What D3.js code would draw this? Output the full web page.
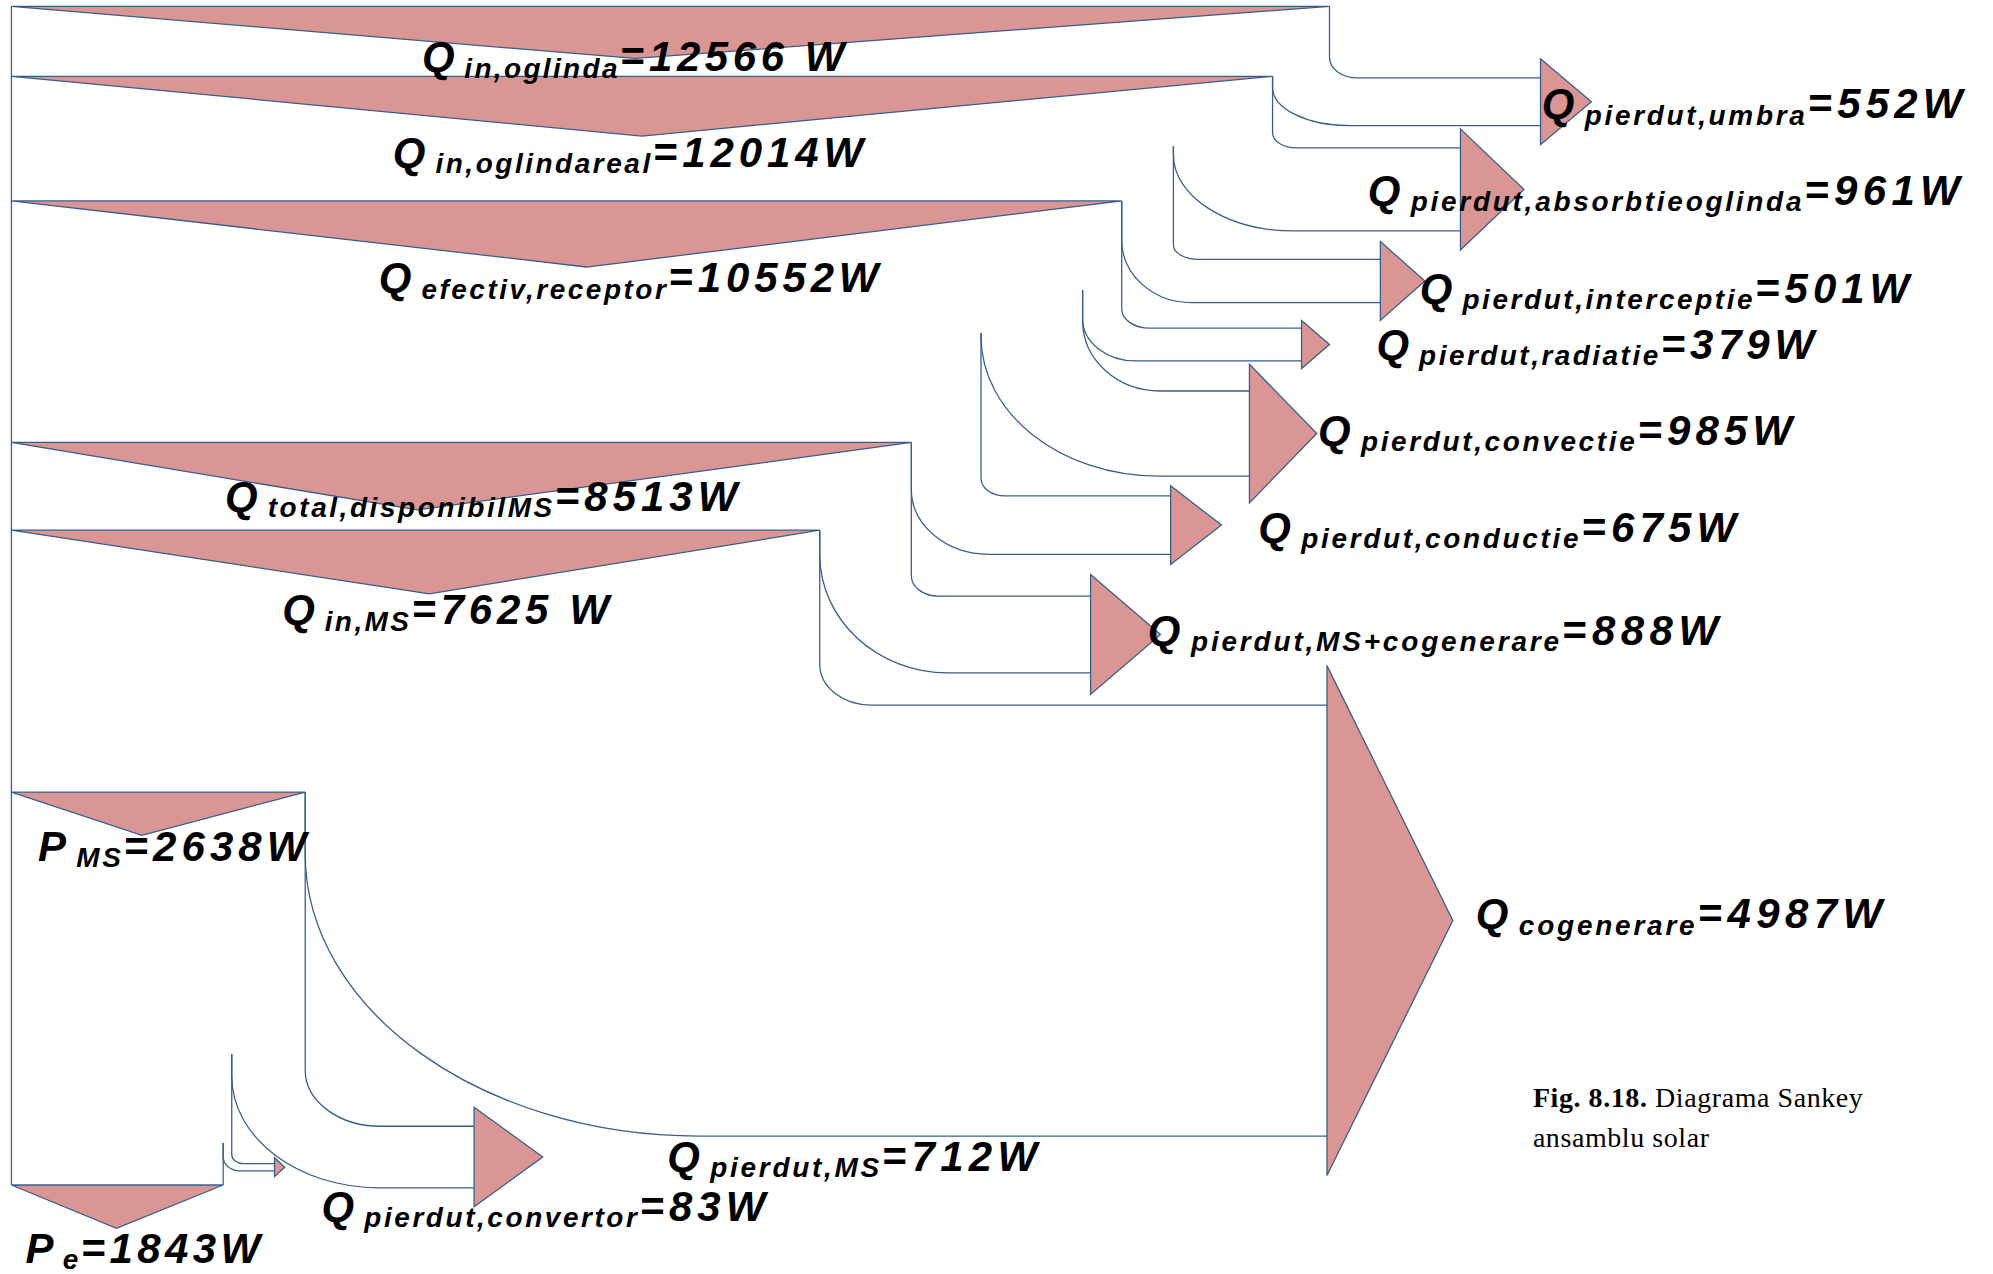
<!DOCTYPE html>
<html>
<head>
<meta charset="utf-8">
<script src="https://cdn.jsdelivr.net/npm/d3@7"></script>
<style>
  html, body { margin: 0; padding: 0; background: #fff; }
  svg { display: block; }
</style>
</head>
<body>
<div id="chart"></div>
<script>
// main flow, stage by stage (W)
const stageSymbols = ["Q", "Q", "Q", "Q", "Q", "P", "P"];
const stageSubs = ["in,oglinda", "in,oglindareal", "efectiv,receptor", "total,disponibilMS", "in,MS", "MS", "e"];
const stageValues = [12566, 12014, 10552, 8513, 7625, 2638, 1843];
const stageUnits = [" W", "W", "W", "W", " W", "W", "W"];

// flows leaving the main stream, in order (W)
const lossSubs = ["pierdut,umbra", "pierdut,absorbtieoglinda", "pierdut,interceptie", "pierdut,radiatie",
  "pierdut,convectie", "pierdut,conductie", "pierdut,MS+cogenerare", "cogenerare", "pierdut,MS", "pierdut,convertor"];
const lossValues = [552, 961, 501, 379, 985, 675, 888, 4987, 712, 83];

const captionBold = "Fig. 8.18.";
const captionText = [" Diagrama Sankey", "ansamblu solar"];

// ---- layout (drawing units, 1568 x 1002, stretched to the window) ----
const W = 1568, H = 1002;
const wallX = 9;
const stageY = [5, 60, 158, 348, 417, 623, 932];
const apexFrac = [0.473, 0.5, 0.518, 0.451, 0.517, 0.444, 0.496];
const apexDepth = [41, 47, 52, 53, 50, 34, 34];

const lossStartLo = [60, 115, 158, 228, 262, 348, 417, 623, 829, 899];
const curveHi = [[22, 16], [19, 12], [20, 11], [22, 15], [61, 55], [19, 14], [21, 16], [40, 32], [59, 44], [9, 7]];
const curveLo = [[60, 30], [95, 60], [55, 49], [42, 33], [140, 110], [61, 51], [101, 93], [310, 222], [116, 88], [13, 11]];
const centerY = [80, 149, 221, 271, 341, 413, 499, 724, 910, 918];
const arrowX = [1212, 1149, 1086, 1024, 983, 921, 858, 1044, 373, 216];
const arrowPad = [15, 15, 14, 6, 21, 8, 17, 31, 15, 4.6];
const tipLen = [40, 50, 35, 22, 53, 40, 55, 99, 54, 8];

// label anchor: left x, baseline y, width
const stageLabelPos = [[332, 56, 336], [309, 131, 374], [298, 230, 397], [177, 402, 407], [222, 491, 261], [30, 677, 215], [20, 993, 188]];
const lossLabelPos = [[1213, 93, 335], [1076, 161, 470], [1117, 238, 389], [1083, 282, 348], [1037, 350, 377],
  [990, 426, 380], [903, 507, 453], [1161, 730, 324], [525, 921, 295], [253, 960, 353]];

const pink = "#D99694", blue = "#385D8A";

const svg = d3.select("#chart").append("svg")
  .attr("width", 1993).attr("height", 1274)
  .attr("viewBox", `0 0 ${W} ${H}`)
  .attr("preserveAspectRatio", "none");

const total = stageValues[0];
const x = d3.scaleLinear().domain([0, total]).range([26, 1046]);
const thick = d3.scaleLinear().domain([0, d3.max(lossValues)]).range([0, 339]);

let run = total;
const losses = lossValues.map((v, i) => {
  const hi = run;
  run -= v;
  return { i, v, hi, lo: run };
});
const stages = stageValues.map((v, i) => ({ i, v, y: stageY[i], x1: x(v) }));

// left wall
svg.append("line")
  .attr("x1", wallX).attr("y1", stageY[0])
  .attr("x2", wallX).attr("y2", stageY[stageY.length - 1])
  .attr("stroke", blue).attr("stroke-width", 1);

// stage wedges
svg.append("g").selectAll("path").data(stages).join("path")
  .attr("d", d => {
    const p = d3.path();
    p.moveTo(wallX, d.y);
    p.lineTo(d.x1, d.y);
    p.lineTo(wallX + (d.x1 - wallX) * apexFrac[d.i], d.y + apexDepth[d.i]);
    p.closePath();
    return p.toString();
  })
  .attr("fill", pink).attr("stroke", blue).attr("stroke-width", 1);

// one band edge: down, quarter turn, then right
function edge(x0, y0, yEnd, rx, ry, xEnd) {
  const k = 0.5523;
  const yc = Math.max(y0, yEnd - ry);
  const r = yEnd - yc;
  const p = d3.path();
  p.moveTo(x0, y0);
  p.lineTo(x0, yc);
  p.bezierCurveTo(x0, yc + r * k, x0 + rx * (1 - k), yEnd, x0 + rx, yEnd);
  p.lineTo(xEnd, yEnd);
  return p.toString();
}

const edges = [];
losses.forEach(d => {
  const t = thick(d.v);
  const startHi = d.i === 0 ? stageY[0] : lossStartLo[d.i - 1];
  edges.push(edge(x(d.hi), startHi, centerY[d.i] - t / 2, curveHi[d.i][0], curveHi[d.i][1], arrowX[d.i]));
  edges.push(edge(x(d.lo), lossStartLo[d.i], centerY[d.i] + t / 2, curveLo[d.i][0], curveLo[d.i][1], arrowX[d.i]));
});
// stage ends that sit below the start of the next band edge
stages.forEach(s => {
  const l = losses.find(d => d.lo === s.v);
  if (l && lossStartLo[l.i] < s.y) edges.push(`M${s.x1},${s.y}L${s.x1},${lossStartLo[l.i]}`);
});

svg.append("g").selectAll("path").data(edges).join("path")
  .attr("d", d => d)
  .attr("fill", "none").attr("stroke", blue).attr("stroke-width", 1);

// arrow heads
svg.append("g").selectAll("path").data(losses).join("path")
  .attr("d", d => {
    const h = thick(d.v) / 2 + arrowPad[d.i];
    const ax = arrowX[d.i], c = centerY[d.i];
    const p = d3.path();
    p.moveTo(ax, c - h);
    p.lineTo(ax + tipLen[d.i], c);
    p.lineTo(ax, c + h);
    p.closePath();
    return p.toString();
  })
  .attr("fill", pink).attr("stroke", blue).attr("stroke-width", 1);

// labels
const labels = svg.append("g")
  .attr("font-family", "'Liberation Sans', Arial, sans-serif")
  .attr("font-weight", "bold").attr("font-style", "italic")
  .attr("fill", "#000");

function label(sym, sub, rest, pos) {
  const t = labels.append("text").attr("x", pos[0]).attr("y", pos[1]).attr("font-size", 33);
  const a = t.append("tspan").text(sym);
  const b = t.append("tspan").attr("font-size", 22).attr("dx", 4).attr("dy", 5).text(sub);
  const c = t.append("tspan").attr("dy", -5).text(rest);
  const setF = f => {
    a.style("letter-spacing", (f * 0.13 * 33) + "px");
    c.style("letter-spacing", (f * 0.13 * 33) + "px");
    b.style("letter-spacing", (f * 0.1 * 22) + "px");
  };
  setF(0);
  const w0 = t.node().getComputedTextLength();
  setF(1);
  const w1 = t.node().getComputedTextLength();
  setF((pos[2] - 4 - w0) / (w1 - w0));
}

stages.forEach(s => label(stageSymbols[s.i], stageSubs[s.i], "=" + s.v + stageUnits[s.i], stageLabelPos[s.i]));
losses.forEach(d => label("Q", lossSubs[d.i], "=" + d.v + "W", lossLabelPos[d.i]));

// caption
const cap = svg.append("g")
  .attr("font-family", "'Liberation Serif', 'Times New Roman', serif")
  .attr("font-size", 22).attr("fill", "#000");
const c1 = cap.append("text").attr("x", 1206).attr("y", 871);
c1.append("tspan").attr("font-weight", "bold").text(captionBold);
c1.append("tspan").text(captionText[0]);
const c2 = cap.append("text").attr("x", 1206).attr("y", 902).text(captionText[1]);
const capW = c1.node().getComputedTextLength();
const capLs = (260 - capW) / c1.text().length;
c1.style("letter-spacing", capLs + "px");
c2.style("letter-spacing", capLs + "px");
</script>
</body>
</html>
